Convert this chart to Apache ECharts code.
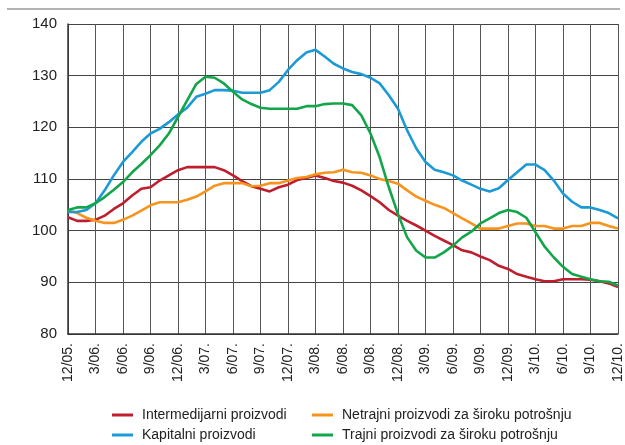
<!DOCTYPE html>
<html>
<head>
<meta charset="utf-8">
<script src="https://cdn.jsdelivr.net/npm/echarts@6/dist/echarts.min.js"></script>
<style>
  html, body { margin: 0; padding: 0; background: #fff; }
  #chart { width: 625px; height: 445px; }
</style>
</head>
<body>
<div id="chart"></div>
<script>
// mjeseci od 12/05. do 12/10.
const months = [
  '12/05.', '1/06.', '2/06.', '3/06.', '4/06.', '5/06.', '6/06.', '7/06.', '8/06.', '9/06.', '10/06.', '11/06.',
  '12/06.', '1/07.', '2/07.', '3/07.', '4/07.', '5/07.', '6/07.', '7/07.', '8/07.', '9/07.', '10/07.', '11/07.',
  '12/07.', '1/08.', '2/08.', '3/08.', '4/08.', '5/08.', '6/08.', '7/08.', '8/08.', '9/08.', '10/08.', '11/08.',
  '12/08.', '1/09.', '2/09.', '3/09.', '4/09.', '5/09.', '6/09.', '7/09.', '8/09.', '9/09.', '10/09.', '11/09.',
  '12/09.', '1/10.', '2/10.', '3/10.', '4/10.', '5/10.', '6/10.', '7/10.', '8/10.', '9/10.', '10/10.', '11/10.',
  '12/10.'
];

const intermedijarni = [
  102.6, 101.9, 101.9, 102.1, 102.9, 104.2, 105.3, 106.8, 108.1, 108.4, 109.7, 110.7,
  111.7, 112.3, 112.3, 112.3, 112.3, 111.7, 110.7, 109.6, 108.6, 108.1, 107.6, 108.4,
  108.9, 109.8, 110.2, 110.7, 110.2, 109.6, 109.3, 108.7, 107.8, 106.7, 105.5, 104.0,
  102.9, 101.9, 101.0, 100.0, 99.0, 98.1, 97.2, 96.2, 95.8, 95.0, 94.3, 93.2,
  92.6, 91.6, 91.1, 90.6, 90.2, 90.2, 90.6, 90.6, 90.6, 90.5, 90.2, 89.8,
  89.1
];

const netrajni = [
  103.9, 103.4, 102.5, 101.9, 101.5, 101.5, 102.1, 102.9, 103.9, 104.9, 105.5, 105.5,
  105.5, 106.0, 106.6, 107.6, 108.7, 109.2, 109.2, 109.2, 108.6, 108.7, 109.2, 109.2,
  109.7, 110.2, 110.4, 110.9, 111.2, 111.3, 111.8, 111.3, 111.2, 110.7, 110.0, 109.6,
  109.1, 107.8, 106.6, 105.8, 105.0, 104.4, 103.4, 102.4, 101.4, 100.4, 100.4, 100.4,
  100.9, 101.4, 101.4, 100.9, 100.9, 100.4, 100.4, 100.9, 100.9, 101.5, 101.5, 100.9,
  100.4
];

const kapitalni = [
  103.6, 103.6, 104.0, 105.3, 107.8, 110.7, 113.3, 115.2, 117.2, 118.8, 119.7, 121.0,
  122.5, 123.8, 125.9, 126.5, 127.2, 127.2, 127.1, 126.7, 126.7, 126.7, 127.2, 128.8,
  131.1, 133.0, 134.5, 135.0, 133.7, 132.3, 131.4, 130.7, 130.3, 129.6, 128.5, 126.2,
  123.6, 119.4, 115.9, 113.3, 111.8, 111.3, 110.7, 109.7, 108.9, 108.1, 107.6, 108.2,
  109.8, 111.3, 112.8, 112.8, 111.7, 109.7, 107.2, 105.6, 104.5, 104.5, 104.0, 103.4,
  102.4
];

const trajni = [
  104.0, 104.5, 104.5, 105.3, 106.5, 107.9, 109.4, 111.3, 112.9, 114.6, 116.5, 118.8,
  122.0, 125.2, 128.4, 129.8, 129.6, 128.5, 126.9, 125.4, 124.5, 123.8, 123.6, 123.6,
  123.6, 123.6, 124.1, 124.1, 124.5, 124.6, 124.6, 124.3, 122.3, 118.8, 114.2, 108.4,
  103.2, 98.7, 96.1, 94.8, 94.8, 95.8, 97.1, 98.7, 99.8, 101.4, 102.4, 103.4,
  104.0, 103.6, 102.5, 99.7, 96.9, 94.8, 93.0, 91.6, 91.1, 90.6, 90.2, 90.1,
  89.4
];

const names = [
  'Intermedijarni proizvodi',
  'Netrajni proizvodi za široku potrošnju',
  'Kapitalni proizvodi',
  'Trajni proizvodi za široku potrošnju'
];

const chart = echarts.init(document.getElementById('chart'));

// dvije kolone legende, svaka s dvije stavke
function legendColumn(left, items) {
  return {
    orient: 'vertical',
    left: left,
    top: 408,
    height: 40,
    padding: 0,
    itemWidth: 21,
    itemHeight: 3,
    itemGap: 6,
    icon: 'rect',
    data: items,
    textStyle: {
      fontFamily: 'Liberation Sans',
      fontSize: 14,
      color: '#222',
      padding: [0, 0, 0, 4]
    }
  };
}

const option = {
  backgroundColor: '#fff',
  animation: false,
  color: ['#be1e2d', '#f7941d', '#1b9ad6', '#13a54a'],
  graphic: [{
    type: 'line',
    shape: { x1: 7, y1: 9, x2: 620, y2: 9 },
    style: { stroke: '#999', lineWidth: 1.5 }
  }],
  legend: [
    legendColumn(112, [names[0], names[2]]),
    legendColumn(312, [names[1], names[3]])
  ],
  grid: {
    left: 68,
    right: 5,
    top: 24,
    bottom: 111
  },
  xAxis: {
    type: 'category',
    data: months,
    boundaryGap: false,
    axisLine: { lineStyle: { color: '#333', width: 1.5 } },
    axisTick: { show: false },
    axisLabel: {
      interval: 2,
      rotate: 90,
      margin: 9,
      fontFamily: 'Liberation Sans',
      fontSize: 14,
      color: '#222'
    },
    splitLine: {
      show: true,
      interval: 2,
      lineStyle: { color: '#555', width: 1 }
    }
  },
  yAxis: {
    type: 'value',
    min: 80,
    max: 140,
    interval: 10,
    axisLine: { show: true, lineStyle: { color: '#333', width: 1.5 } },
    axisTick: { show: false },
    axisLabel: {
      margin: 11,
      fontFamily: 'Liberation Sans',
      fontSize: 15,
      color: '#222'
    },
    splitLine: { lineStyle: { color: '#444', width: 1 } }
  },
  series: [
    { name: names[0], type: 'line', data: intermedijarni },
    { name: names[1], type: 'line', data: netrajni },
    { name: names[2], type: 'line', data: kapitalni },
    { name: names[3], type: 'line', data: trajni }
  ].map(function (s) {
    return Object.assign(s, {
      showSymbol: false,
      symbol: 'none',
      lineStyle: { width: 2.6 }
    });
  })
};

chart.setOption(option);
</script>
</body>
</html>
